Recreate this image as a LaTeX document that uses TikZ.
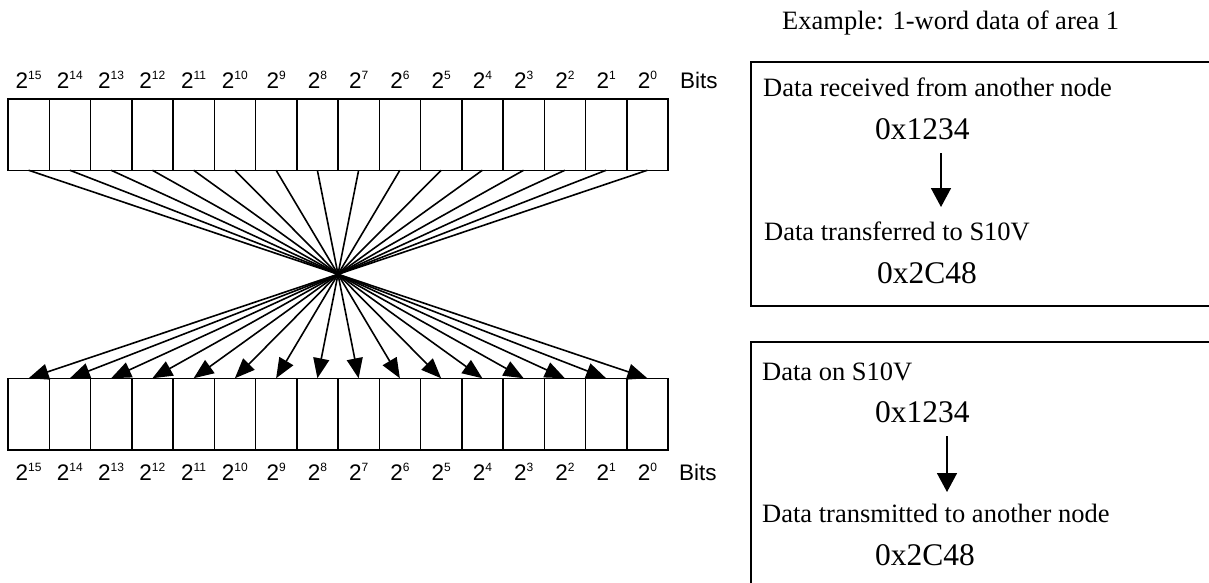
\documentclass[tikz,border=0pt]{standalone}
\usepackage{fontspec}
\setmainfont{Liberation Serif}
\newfontfamily\arialfont{Liberation Sans}
\usetikzlibrary{arrows.meta}

\newcommand\bitpow[1]{2\raisebox{8.5pt}{\fontsize{12}{12}\selectfont #1}}

\begin{document}
\begin{tikzpicture}[x=1pt,y=-1pt,
  cell/.style={draw,line width=1.5pt,minimum width=41.25pt,minimum height=71.5pt,inner sep=0pt,outer sep=0pt},
  bitlbl/.style={font=\arialfont\fontsize{22.5}{22.5}\selectfont,inner sep=0pt,anchor=base},
  txt/.style={font=\fontsize{26.5}{26.5}\selectfont,inner sep=0pt,anchor=base west},
  hex/.style={font=\fontsize{31.5}{31.5}\selectfont,inner sep=0pt,anchor=base west},
  swap/.style={line width=1.6pt,-{Triangle[length=20pt,width=16pt]}},
  boxarrow/.style={line width=1.6pt,-{Triangle[length=19pt,width=20pt]}}]
\useasboundingbox (0,0) rectangle (1209,582);

\foreach \i in {0,...,15}{
  \pgfmathtruncatemacro\e{15-\i}
  \node[cell] (t\i) at ({8+41.25*(\i+0.5)},134.5) {};
  \node[cell] (b\i) at ({8+41.25*(\i+0.5)},414) {};
  \node[bitlbl] (tl\i) at ({8+41.25*(\i+0.5)},88) {\bitpow{\e}};
  \node[bitlbl] (bl\i) at ({8+41.25*(\i+0.5)},480) {\bitpow{\e}};
}
\node[bitlbl,anchor=base west] (tbits) at (680,88) {Bits};
\node[bitlbl,anchor=base west] (bbits) at (679,480) {Bits};

\foreach \i in {0,...,15}{
  \pgfmathtruncatemacro\j{15-\i}
  \draw[swap] (t\i.south) -- (b\j.north);
}

\node[txt] (example) at (782,29) {Example: 1-word data of area 1};

\draw[line width=1.7pt] (751,62) rectangle (1240,306);
\node[txt] (recv) at (763,96) {Data received from another node};
\node[hex] (recvhex) at (875,139) {0x1234};
\node[txt] (xfer) at (764,240) {Data transferred to S10V};
\node[hex] (xferhex) at (877,283) {0x2C48};
\coordinate (r1) at (941,153);
\coordinate (r2) at (941,207);
\draw[boxarrow] (r1) -- (r2);

\draw[line width=1.7pt] (751,342) rectangle (1240,600);
\node[txt] (onv) at (762,380) {Data on S10V};
\node[hex] (onvhex) at (875,422) {0x1234};
\node[txt] (send) at (762,522) {Data transmitted to another node};
\node[hex] (sendhex) at (875,565) {0x2C48};
\coordinate (s1) at (947,436);
\coordinate (s2) at (947,492);
\draw[boxarrow] (s1) -- (s2);

\end{tikzpicture}
\end{document}
